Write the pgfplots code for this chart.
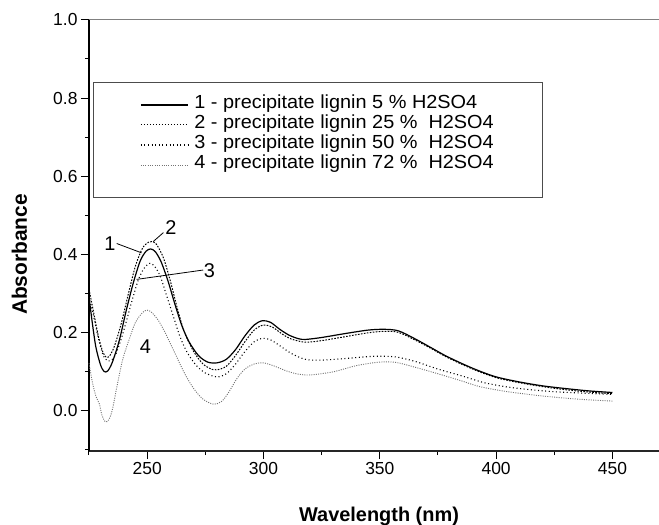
\documentclass[border=0pt]{standalone}
\usepackage{fontspec}
\setmainfont{Liberation Sans}
\usepackage{graphicx}
\usepackage{pgfplots}
\pgfplotsset{compat=1.18}
\newcommand\lgt[1]{{\fontsize{19}{22}\selectfont\scalebox{1.05}[1]{#1}}}
\begin{document}
\begin{tikzpicture}
\begin{axis}[name=ax, scale only axis, width=570bp, height=431bp,
  xmin=225, xmax=470, ymin=-0.105, ymax=1.0,
  axis x line*=bottom, axis y line*=left,
  axis line style={-},
  x axis line style={-, line width=1.5bp, black!85},
  y axis line style={-, line width=2bp, black},
  tick align=outside,
  xtick={250,300,...,450}, minor xtick={225,275,...,475},
  ytick={0,0.2,...,1.0}, minor ytick={-0.1,0.1,...,0.9},
  major tick length=8bp, minor tick length=4bp,
  tick style={black, line width=1bp},
  tick label style={font=\fontsize{17.5}{20}\selectfont},
  /pgf/number format/assume math mode=true,
  yticklabel style={/pgf/number format/.cd, fixed, fixed zerofill, precision=1},
  xticklabel style={/pgf/number format/1000 sep={}},
  xlabel={\bfseries Wavelength (nm)}, ylabel={\bfseries Absorbance},
  xlabel style={font=\fontsize{20}{24}\selectfont, at={(axis description cs:0.5088,-0.1636)}, anchor=base},
  ylabel style={font=\fontsize{21}{25}\selectfont, at={(axis description cs:-0.1088,0.456)}, anchor=base},
  legend style={draw=none, fill=none, at={(axis description cs:0.0895,0.8265)}, anchor=north west,
    inner sep=0pt, row sep=0pt, column sep=0pt,
    nodes={inner sep=0pt, text height=14bp, text depth=6bp}},
  legend cell align=left,
  legend image code/.code={\draw[#1] (0bp,0bp) -- (47bp,0bp); \path (53bp,0bp);},
  clip=false,
]
\addplot[black, line width=1.2bp, smooth] coordinates {
(225,0.29) (226.5,0.22) (228,0.16) (230,0.115) (231.5,0.099) (233,0.100) (235,0.122) (238,0.178)
(241,0.255) (244,0.325) (247,0.382) (249.5,0.407) (251.5,0.413) (253.5,0.406) (256,0.38)
(259,0.33) (262,0.27) (265,0.215) (268,0.175) (272,0.140) (276,0.123) (280,0.121) (284,0.130)
(288,0.155) (292,0.190) (296,0.218) (299.5,0.229) (303,0.225) (307,0.207) (311,0.192) (315,0.183)
(318,0.181) (325,0.186) (335,0.196) (345,0.205) (352,0.207) (358,0.203) (365,0.183) (372,0.160)
(378,0.140) (385,0.120) (392,0.102) (400,0.085) (410,0.072) (420,0.062) (430,0.055) (440,0.049) (450,0.045)};
\addlegendentry{\lgt{1 - precipitate lignin 5 \% H2SO4}}
\addplot[black, line width=1bp, dash pattern=on 1.6bp off 1.4bp, smooth] coordinates {
(225,0.31) (227,0.25) (229,0.19) (231,0.148) (232.5,0.135) (234,0.140) (236,0.165) (239,0.225)
(242,0.30) (245,0.37) (248,0.415) (250.5,0.430) (252,0.432) (254,0.425) (257,0.39) (260,0.33)
(263,0.26) (266,0.20) (270,0.15) (274,0.118) (278,0.104) (280,0.103) (284,0.112) (288,0.140)
(292,0.175) (296,0.205) (300,0.218) (304,0.212) (308,0.195) (312,0.182) (318,0.174) (325,0.178)
(335,0.188) (345,0.198) (352,0.202) (358,0.199) (365,0.180) (372,0.158) (378,0.138) (385,0.118)
(392,0.100) (400,0.083) (410,0.070) (420,0.060) (430,0.052) (440,0.046) (450,0.042)};
\addlegendentry{\lgt{2 - precipitate lignin 25 \%\ \ H2SO4}}
\addplot[black, line width=1.1bp, dash pattern=on 1bp off 2.6bp, smooth] coordinates {
(225,0.29) (227,0.24) (229,0.185) (231,0.142) (233,0.126) (235,0.130) (237,0.150) (240,0.205)
(243,0.27) (246,0.33) (248.5,0.362) (251,0.376) (253,0.370) (255.5,0.345) (258,0.30) (261,0.245)
(264,0.19) (267,0.15) (271,0.115) (275,0.095) (280,0.085) (284,0.093) (288,0.118) (292,0.150)
(296,0.175) (299.5,0.184) (303,0.180) (307,0.165) (312,0.145) (318,0.130) (325,0.128) (335,0.132)
(345,0.137) (350,0.138) (357,0.136) (365,0.125) (375,0.105) (385,0.088) (395,0.070) (405,0.059)
(415,0.052) (425,0.047) (435,0.044) (450,0.040)};
\addlegendentry{\lgt{3 - precipitate lignin 50 \%\ \ H2SO4}}
\addplot[black!55, line width=0.9bp, dash pattern=on 1bp off 1.3bp, smooth] coordinates {
(225,0.12) (226.5,0.07) (228,0.035) (229.5,0.015) (230.5,-0.012) (232,-0.030) (233.5,-0.025)
(235,0.000) (237,0.060) (239.5,0.130) (242.5,0.185) (245,0.225) (248,0.250) (250,0.256) (252,0.250)
(255,0.228) (258,0.195) (262,0.145) (266,0.095) (270,0.055) (274,0.028) (278.5,0.015) (282,0.022)
(285,0.045) (288.5,0.080) (292,0.105) (296,0.118) (300,0.121) (305,0.112) (310,0.100) (315,0.092)
(320,0.090) (330,0.098) (340,0.114) (350,0.123) (357,0.122) (365,0.110) (375,0.093) (385,0.075)
(393,0.060) (405,0.047) (420,0.036) (435,0.028) (450,0.023)};
\addlegendentry{\lgt{4 - precipitate lignin 72 \%\ \ H2SO4}}
\draw[black!70, line width=0.9bp] (axis description cs:0.007,0.5893) rectangle (axis description cs:0.7947,0.8561);
\draw[gray, line width=1bp] (axis description cs:0,1) -- (axis description cs:1,1);
\node[font=\fontsize{20}{24}\selectfont, inner sep=0pt] at (axis cs:234,0.426) {1};
\draw[black, line width=0.8bp] (axis cs:236.9,0.427) -- (axis cs:247.6,0.403);
\node[font=\fontsize{20}{24}\selectfont, inner sep=0pt] at (axis cs:260.2,0.469) {2};
\draw[black, line width=0.8bp] (axis cs:257.0,0.455) -- (axis cs:252.6,0.432);
\node[font=\fontsize{20}{24}\selectfont, inner sep=0pt] at (axis cs:276.8,0.357) {3};
\draw[black, line width=0.8bp] (axis cs:274.1,0.359) -- (axis cs:245.5,0.335);
\node[font=\fontsize{20}{24}\selectfont, inner sep=0pt] at (axis cs:249.2,0.163) {4};
\end{axis}
\pgfresetboundingbox
\path[use as bounding box] ([xshift=-89bp,yshift=-74bp]ax.south west) rectangle ([yshift=20bp]ax.north east);
\end{tikzpicture}
\end{document}
